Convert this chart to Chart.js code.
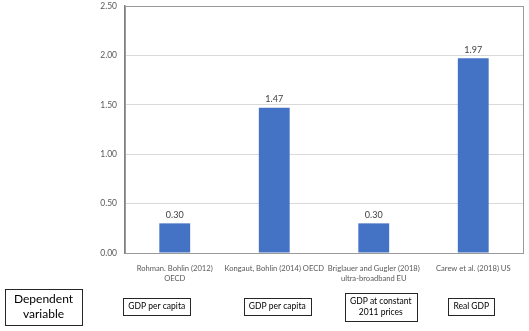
<!DOCTYPE html>
<html>
<head>
<meta charset="utf-8">
<script src="https://cdn.jsdelivr.net/npm/chart.js@4"></script>
<style>
  html, body { margin: 0; padding: 0; background: #fff; }
  #wrap { position: relative; width: 529px; height: 331px; }
</style>
</head>
<body>
<div id="wrap"><canvas id="chart" width="529" height="331"></canvas></div>
<script>
// studies on the x axis (multi-line labels as arrays)
const studies = [
  ['Rohman. Bohlin (2012)', 'OECD'],
  'Kongaut, Bohlin (2014) OECD',
  ['Briglauer and Gugler (2018)', 'ultra-broadband EU'],
  'Carew et al. (2018) US'
];
// estimated effect per study
const effects = [0.30, 1.47, 0.30, 1.97];
// dependent variable used in each study
const dependentVars = [
  ['GDP per capita'],
  ['GDP per capita'],
  ['GDP at constant', '2011 prices'],
  ['Real GDP']
];
const yTicks = [0, 0.5, 1.0, 1.5, 2.0, 2.5];

const FONT = 'Lato, "Open Sans", sans-serif';
const GREY_TEXT = '#595959';

// horizontal nudge of each dependent-variable box from its bar centre
const boxShift = [-18, 3, 7, -2];

/* frame around the plot area */
const frame = {
  id: 'frame',
  beforeDatasetsDraw(chart) {
    const { ctx, chartArea: a } = chart;
    ctx.save();
    ctx.strokeStyle = '#9a9a9a';
    ctx.lineWidth = 1;
    ctx.strokeRect(Math.round(a.left) + 0.5, Math.round(a.top) + 0.5,
                   Math.round(a.right - a.left), Math.round(a.bottom - a.top));
    ctx.restore();
  }
};

/* value labels above each bar */
const valueLabels = {
  id: 'valueLabels',
  afterDatasetsDraw(chart) {
    const { ctx } = chart;
    const meta = chart.getDatasetMeta(0);
    ctx.save();
    ctx.font = '9px ' + FONT;
    ctx.fillStyle = '#404040';
    ctx.textAlign = 'center';
    ctx.textBaseline = 'bottom';
    meta.data.forEach((bar, i) => {
      ctx.fillText(effects[i].toFixed(2), bar.x, bar.y - 4);
    });
    ctx.restore();
  }
};

/* boxed "dependent variable" row under the axis */
const depRow = {
  id: 'depRow',
  afterDraw(chart) {
    const { ctx } = chart;
    const x = chart.scales.x;

    const drawBox = (lines, cx, cy, size, padX, lineH, minH) => {
      ctx.font = size + 'px ' + FONT;
      const w = Math.max(...lines.map(l => ctx.measureText(l).width)) + padX * 2;
      const h = Math.max(minH, lines.length * lineH + 6);
      const left = Math.round(cx - w / 2) + 0.5;
      const top = Math.round(cy - h / 2) + 0.5;
      ctx.strokeStyle = '#262626';
      ctx.lineWidth = 1;
      ctx.strokeRect(left, top, Math.round(w), Math.round(h));
      ctx.fillStyle = '#000';
      ctx.textAlign = 'center';
      ctx.textBaseline = 'middle';
      lines.forEach((l, j) => {
        ctx.fillText(l, cx, cy + (j - (lines.length - 1) / 2) * lineH);
      });
    };

    ctx.save();
    drawBox(['Dependent', 'variable'], 43.5, 307, 12, 9, 15, 36);
    dependentVars.forEach((lines, i) => {
      const cx = x.getPixelForValue(i) + boxShift[i];
      drawBox(lines, cx, 306.5, 8.5, 5, 11, 16);
    });
    ctx.restore();
  }
};

new Chart(document.getElementById('chart'), {
  type: 'bar',
  data: {
    labels: studies,
    datasets: [{
      data: effects,
      backgroundColor: '#4472C4',
      borderWidth: 0,
      barPercentage: 0.31,
      categoryPercentage: 1.0
    }]
  },
  options: {
    responsive: false,
    animation: false,
    layout: { padding: { top: 6, right: 6, left: 0, bottom: 0 } },
    plugins: {
      legend: { display: false },
      tooltip: { enabled: false }
    },
    scales: {
      x: {
        grid: { display: false },
        border: { display: false },
        ticks: {
          color: GREY_TEXT,
          font: { family: FONT, size: 7.6, lineHeight: 1.3 },
          padding: 3,
          maxRotation: 0,
          autoSkip: false
        },
        afterFit(scale) { scale.height = 78; }
      },
      y: {
        min: 0,
        max: 2.5,
        afterBuildTicks(scale) { scale.ticks = yTicks.map(v => ({ value: v })); },
        grid: { color: '#d9d9d9', drawTicks: false },
        border: { display: true, color: '#808080', width: 1.5 },
        ticks: {
          color: GREY_TEXT,
          font: { family: FONT, size: 8.5 },
          padding: 8,
          callback: v => v.toFixed(2)
        },
        afterFit(scale) {
          scale.width = 125;
          scale.paddingTop = 0;
          scale.paddingBottom = 0;
        }
      }
    }
  },
  plugins: [frame, valueLabels, depRow]
});
</script>
</body>
</html>
